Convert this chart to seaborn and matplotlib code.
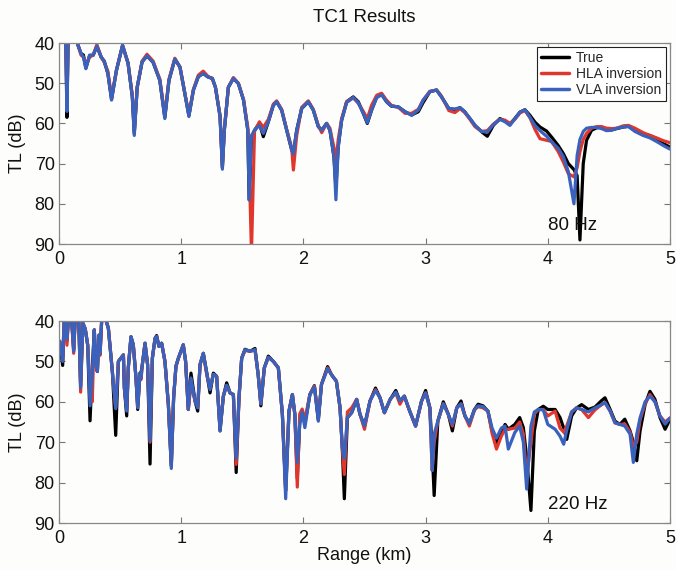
import numpy as np
import pandas as pd
import matplotlib
matplotlib.use("Agg")
import matplotlib.pyplot as plt
import seaborn as sns

# ---------------- data: 80 Hz panel ----------------
range_80 = [0.000, 0.055, 0.065, 0.075, 0.130, 0.155, 0.180, 0.200, 0.220, 0.250,
            0.280, 0.310, 0.345, 0.370, 0.400, 0.430, 0.470, 0.520, 0.565, 0.600,
            0.616, 0.640, 0.680, 0.720, 0.770, 0.825, 0.866, 0.900, 0.948, 0.990,
            1.030, 1.063, 1.100, 1.140, 1.180, 1.216, 1.255, 1.280, 1.318, 1.337,
            1.353, 1.386, 1.427, 1.468, 1.510, 1.545, 1.556, 1.575, 1.600, 1.640,
            1.672, 1.713, 1.754, 1.781, 1.822, 1.863, 1.904, 1.918, 1.945, 1.986,
            2.040, 2.081, 2.122, 2.150, 2.190, 2.217, 2.250, 2.266, 2.285, 2.313,
            2.354, 2.408, 2.449, 2.490, 2.523, 2.558, 2.600, 2.640, 2.680, 2.720,
            2.777, 2.832, 2.886, 2.940, 2.980, 3.035, 3.090, 3.130, 3.190, 3.240,
            3.282, 3.320, 3.363, 3.404, 3.459, 3.505, 3.554, 3.608, 3.650, 3.690,
            3.730, 3.772, 3.813, 3.854, 3.895, 3.936, 3.990, 4.031, 4.085, 4.127,
            4.168, 4.214, 4.240, 4.263, 4.290, 4.317, 4.358, 4.400, 4.440, 4.480,
            4.523, 4.564, 4.618, 4.660, 4.713, 4.780, 4.836, 4.890, 4.945, 5.000]
true_80 = [36, 38, 58.5, 38, 38, 40.5, 42.6, 43, 46.2, 43.2,
           43, 40.8, 43.5, 44.5, 47.6, 54, 46.8, 40.6, 45, 53.4,
           62.5, 51, 44.7, 43.2, 44.8, 49.3, 58.5, 49.3, 44, 46,
           52.6, 58, 51.7, 48.4, 47.5, 48.4, 48.8, 51, 58.3, 71,
           61.7, 51, 48.8, 50.1, 54.2, 61.7, 79, 64, 61.7, 60,
           63.3, 59.6, 55.5, 54.6, 56.7, 61.7, 66.6, 67.5, 61.7, 56.3,
           54.6, 56.7, 60.8, 61.7, 60, 61.7, 68.3, 76, 65.8, 59.2,
           54.6, 53.4, 54.6, 57.5, 60, 56.7, 53.4, 52.7, 54.6, 55.7,
           55.9, 57.1, 57.9, 57.1, 54.8, 52.1, 51.7, 53.4, 56.3, 56.6,
           56.1, 57.1, 58.8, 60.5, 62.1, 63.2, 60.5, 58.8, 59.4, 60.2,
           58.8, 57.2, 56.6, 58, 59.7, 60.9, 61.9, 63.4, 65.5, 67.5,
           70, 71.5, 73, 89, 70, 64.2, 61.7, 61.1, 60.9, 61.7,
           61.6, 61.3, 60.9, 60.7, 61.7, 62.6, 63, 63.8, 65, 65.9]
hla_80 = [36, 38, 55, 38, 38, 40.5, 43, 43.5, 45.5, 43.5,
          43, 40.4, 43.5, 44.8, 47, 53.5, 46.8, 40.6, 45, 53,
          62, 51, 44.5, 42.8, 44.5, 49, 58, 49, 43.8, 46,
          52.5, 58, 51.5, 48, 47, 48.2, 49, 51, 58, 70.5,
          61.5, 51, 48.6, 50, 54, 61, 70, 92, 62, 59.6,
          61, 59, 55.2, 54.4, 56.5, 61.5, 66, 71.6, 63, 56,
          54.4, 56.5, 60.5, 62.3, 60, 61.2, 66, 70, 64, 58.8,
          54.6, 53.6, 55, 57, 58.8, 55.5, 53, 52.5, 54.2, 55.5,
          56, 57.5, 57.5, 56.5, 54.2, 52, 51.7, 53.2, 56.8, 57.3,
          56.3, 57.3, 59, 60.8, 62, 61.8, 60.2, 59, 59.2, 60,
          59, 57.4, 56.8, 58.6, 61.5, 63.8, 64.2, 64.5, 67, 69.6,
          72.5, 73.3, 71, 67, 64, 62.5, 61.2, 60.8, 60.8, 61.2,
          61.3, 61.2, 60.6, 60.5, 61.2, 62.3, 63, 63.6, 64.3, 64.8]
vla_80 = [36, 38, 57, 38, 38, 40.5, 42.6, 43.5, 46.4, 43,
          43, 40.8, 43.5, 44.5, 47.6, 54.2, 46.8, 40.6, 45, 53.4,
          63, 51, 44.7, 43.2, 44.8, 49.3, 58.8, 49.3, 44, 46,
          52.6, 58.3, 51.7, 48.4, 47.6, 48.4, 48.8, 51, 58.3, 71.4,
          61.7, 51, 48.8, 50.1, 54.2, 61.7, 79, 63, 61.7, 60.5,
          62.5, 59.6, 55.5, 54.6, 56.7, 61.7, 66.6, 67.6, 61.7, 56.3,
          54.6, 56.7, 60.8, 61.7, 60, 61.7, 68.3, 79, 65.8, 59.2,
          54.8, 53.6, 54.8, 57.5, 59.8, 56.7, 53.6, 52.9, 54.6, 55.7,
          55.9, 57.1, 58, 56.7, 54.2, 52.1, 51.7, 53.4, 56.3, 56.4,
          56.1, 57.1, 58.8, 60.5, 62, 62.2, 60.3, 59, 59.6, 60.5,
          58.9, 57.2, 56.6, 58.5, 60.5, 61.8, 63.2, 64.6, 66.2, 68.3,
          72, 80, 68, 64, 62, 61.2, 61, 61, 61.3, 61.8,
          61.7, 61.2, 60.9, 60.8, 62, 63, 63.6, 64.5, 65.5, 66.4]

# ---------------- data: 220 Hz panel ----------------
range_220 = [0.005, 0.030, 0.045, 0.065, 0.080, 0.105, 0.120, 0.135, 0.160, 0.177,
             0.195, 0.215, 0.235, 0.254, 0.272, 0.289, 0.300, 0.314, 0.327, 0.336,
             0.349, 0.376, 0.404, 0.437, 0.464, 0.486, 0.499, 0.527, 0.535, 0.554,
             0.567, 0.589, 0.608, 0.630, 0.644, 0.663, 0.671, 0.682, 0.704, 0.725,
             0.745, 0.764, 0.786, 0.799, 0.818, 0.840, 0.867, 0.895, 0.919, 0.938,
             0.957, 0.977, 1.017, 1.036, 1.058, 1.080, 1.113, 1.135, 1.154, 1.181,
             1.210, 1.236, 1.263, 1.290, 1.318, 1.345, 1.372, 1.400, 1.427, 1.450,
             1.473, 1.495, 1.522, 1.563, 1.604, 1.630, 1.652, 1.680, 1.713, 1.754,
             1.795, 1.828, 1.855, 1.882, 1.910, 1.930, 1.950, 1.970, 1.990, 2.012,
             2.053, 2.090, 2.122, 2.148, 2.198, 2.230, 2.270, 2.300, 2.318, 2.335,
             2.360, 2.395, 2.436, 2.463, 2.500, 2.545, 2.590, 2.627, 2.663, 2.710,
             2.756, 2.790, 2.826, 2.870, 2.918, 2.967, 3.000, 3.035, 3.054, 3.070,
             3.100, 3.145, 3.186, 3.219, 3.255, 3.290, 3.322, 3.358, 3.400, 3.430,
             3.470, 3.510, 3.544, 3.580, 3.620, 3.650, 3.677, 3.730, 3.770, 3.800,
             3.827, 3.862, 3.890, 3.922, 3.963, 4.000, 4.060, 4.100, 4.130, 4.155,
             4.195, 4.236, 4.277, 4.332, 4.386, 4.440, 4.468, 4.510, 4.550, 4.590,
             4.630, 4.673, 4.700, 4.728, 4.755, 4.796, 4.836, 4.877, 4.918, 4.960,
             5.000]
true_220 = [45, 51, 38, 45, 38, 40.5, 47, 38, 38, 56,
            40.5, 42, 46, 64.7, 52, 42.2, 50.5, 52.5, 43.5, 48,
            40, 39, 41.8, 52.6, 68.3, 50, 49.5, 48.4, 56.6, 63.5,
            51.6, 43.9, 45.9, 54.1, 61.9, 52.9, 52.9, 50.8, 45.5, 50.8,
            75.4, 49.2, 44.3, 43.6, 46.3, 45.5, 50, 60.7, 75.8, 59,
            51.2, 49.2, 45.9, 50, 61.9, 52.9, 59.8, 62.3, 50.8, 48,
            53, 57.8, 52.9, 53.7, 67.2, 58.6, 55.3, 57.8, 58.2, 77.5,
            59, 49.2, 47, 47.5, 46.8, 53.3, 61, 51.6, 48.7, 50,
            51.6, 63.1, 82, 62.3, 58.2, 63.1, 79, 65, 62.3, 65.5,
            58.2, 56, 64.5, 55.7, 51.3, 53.3, 54.9, 61.5, 71.3, 84,
            63.9, 62.7, 59.4, 63.1, 66, 59.8, 56.6, 59, 62.7, 59.4,
            57.2, 59.8, 58.6, 62.3, 66, 59.8, 57.2, 61.5, 72, 83.2,
            64.8, 60, 63.1, 67.2, 61.5, 59.8, 63.5, 65.4, 61.9, 60.6,
            61, 62.3, 67.2, 70.1, 68, 65.6, 66.8, 65.6, 63.9, 66.4,
            73.8, 86.9, 67.2, 61.9, 61.1, 61.9, 61.9, 63.9, 66.5, 69.3,
            63.5, 61.5, 60.7, 61.9, 61.3, 59.7, 59, 61.9, 64.8, 65.6,
            64.3, 67.2, 70, 74.6, 67.2, 60.7, 57.4, 59.4, 63.9, 66.8,
            64.3]
hla_220 = [45, 49, 38, 46, 38, 40.5, 48, 38, 38, 57.6,
           40.5, 42, 46, 56, 60, 42.2, 50.5, 52.5, 43.5, 48.5,
           40, 39, 41.8, 52.6, 61.5, 50, 49.5, 48.4, 56.6, 61.5,
           51.6, 43.9, 45.9, 54.1, 60.7, 52.9, 54.5, 50.8, 45.5, 50.8,
           70, 49.2, 44.3, 43.9, 46.3, 45.5, 50, 60.7, 75.8, 59,
           51.2, 49.2, 45.9, 50, 61.9, 55.7, 59.8, 61, 50.8, 48,
           53.5, 56.5, 53.2, 53.7, 66.5, 58.6, 56, 57.8, 58.2, 75.5,
           59, 49.2, 47.3, 47.5, 47.2, 53.3, 60.5, 51.6, 49, 50,
           51.6, 63.1, 82, 62.3, 58.2, 63.1, 81.1, 63, 61.8, 64.5,
           58.2, 56.1, 64, 55.7, 51.6, 53.3, 54.9, 61.5, 71.3, 78,
           62.5, 61.5, 59.4, 63.1, 66.8, 59.8, 57, 59, 62.7, 59.4,
           57.8, 60.6, 58.6, 62.3, 66, 59.8, 57.8, 61.5, 77, 70,
           64.8, 60.5, 63.1, 66, 61.5, 60.5, 63.5, 66, 62, 61.2,
           61.5, 62.3, 67.8, 71.7, 68.5, 66.8, 66.8, 66.5, 65, 68,
           78.7, 70, 63, 61.9, 61.9, 63.5, 62.3, 66.5, 67.5, 66,
           62.5, 61.5, 61.9, 63.9, 62, 60.7, 60.2, 62.3, 65.2, 65.6,
           65.5, 67.5, 71, 70, 64.5, 60.5, 58.2, 60, 63.5, 65,
           64]
vla_220 = [45, 50, 38, 44.5, 38, 40.5, 47.5, 38, 38, 56.5,
           40.5, 42, 46, 61, 53, 42.2, 50.5, 52.5, 43.5, 48,
           40, 39, 41.8, 52.6, 61.7, 50, 49.5, 48.4, 56.6, 62.3,
           51.6, 43.9, 45.9, 54.1, 61.5, 52.9, 54.1, 50.8, 45.5, 50.8,
           69.7, 49.2, 44.3, 43.8, 46.3, 45.5, 50, 60.7, 76.5, 59,
           51.2, 49.2, 45.9, 50, 61.9, 54.1, 59.8, 61.5, 50.8, 48,
           53, 57, 53.2, 53.7, 67.2, 58.6, 55.9, 57.8, 58.2, 74,
           59, 49.2, 47.1, 47.5, 47.1, 53.3, 60.5, 51.6, 49, 50,
           51.6, 63.1, 84, 62.3, 58.2, 63.1, 75, 65.6, 62.5, 66.4,
           58.2, 56.3, 64.8, 55.7, 51.8, 53.3, 54.9, 61.5, 71.3, 74,
           63.9, 62.7, 59.4, 63.1, 66, 59.8, 57.2, 59, 62.7, 59.4,
           57.6, 59.8, 58.6, 62.3, 66, 59.8, 57.8, 61.5, 77, 68,
           64.8, 60.5, 63.1, 65.6, 61.5, 60.5, 63.5, 65.4, 61.9, 61,
           61.2, 62.3, 66.5, 69, 66.5, 66, 71.7, 67.6, 66, 70,
           81.6, 66, 62.5, 61.9, 62, 65.6, 66.8, 68.5, 70.5, 67,
           62.5, 61.5, 61.9, 62.5, 61.5, 60.7, 60.2, 62.3, 65.2, 65.6,
           66, 68, 75, 68, 64, 60, 58.6, 60, 63.5, 65.5,
           64]

series_names = ["True", "HLA inversion", "VLA inversion"]
series_colors = ["#000000", "#e0362c", "#3a62bd"]
freq_labels = ["80 Hz", "220 Hz"]
x_ticks = [0, 1, 2, 3, 4, 5]
y_ticks = [40, 50, 60, 70, 80, 90]


def long_frame(rng, t, h, v):
    frames = []
    for name, vals in zip(series_names, [t, h, v]):
        frames.append(pd.DataFrame({"Range": rng, "TL": vals, "Series": name}))
    return pd.concat(frames, ignore_index=True)


df80 = long_frame(range_80, true_80, hla_80, vla_80)
df220 = long_frame(range_220, true_220, hla_220, vla_220)

sns.set_theme(style="white")
plt.rcParams["font.family"] = ["Liberation Sans", "DejaVu Sans"]

fig = plt.figure(figsize=(6.76, 5.70), dpi=100, facecolor="#fdfdfb")
ax1 = fig.add_axes([59 / 676, 1 - 244 / 570, 611 / 676, 201 / 570])
ax2 = fig.add_axes([59 / 676, 1 - 523 / 570, 611 / 676, 202 / 570])

palette = dict(zip(series_names, series_colors))
for ax, df, lab in [(ax1, df80, freq_labels[0]), (ax2, df220, freq_labels[1])]:
    ax.set_facecolor("#fdfdfb")
    sns.lineplot(data=df, x="Range", y="TL", hue="Series", hue_order=series_names,
                 palette=palette, sort=False, estimator=None, linewidth=2.3,
                 ax=ax, legend=(ax is ax1))
    ax.set_xlim(0, 5)
    ax.set_ylim(90, 40)
    ax.set_xticks(x_ticks)
    ax.set_yticks(y_ticks)
    ax.tick_params(direction="in", length=4, width=0.8, colors="#777777",
                   labelcolor="#111111", labelsize=13, top=True, right=True,
                   bottom=True, left=True)
    ax.tick_params(axis="x", pad=5)
    ax.tick_params(axis="y", pad=3)
    for s in ax.spines.values():
        s.set_color("#888888")
        s.set_linewidth(0.9)
    ax.set_ylabel("TL (dB)", fontsize=13, color="#111111", labelpad=6)
    ax.set_xlabel("")
    ax.text(4.0, 85.3, lab, fontsize=13.5, color="#111111", va="center", ha="left")

ax2.set_xlabel("Range (km)", fontsize=13, color="#111111", labelpad=0)
ax1.set_title("TC1 Results", fontsize=13.5, color="#111111", pad=15)

leg = ax1.legend(loc="upper right", fontsize=10, frameon=True, fancybox=False,
                 borderaxespad=0.3, handlelength=2.0, handletextpad=0.5,
                 labelspacing=0.12, borderpad=0.3)
leg.get_frame().set_edgecolor("#222222")
leg.get_frame().set_linewidth(0.8)
leg.get_frame().set_facecolor("white")
leg.get_frame().set_alpha(1)
for line in leg.get_lines():
    line.set_linewidth(2.5)

fig.savefig("out.png", dpi=100, facecolor=fig.get_facecolor())
